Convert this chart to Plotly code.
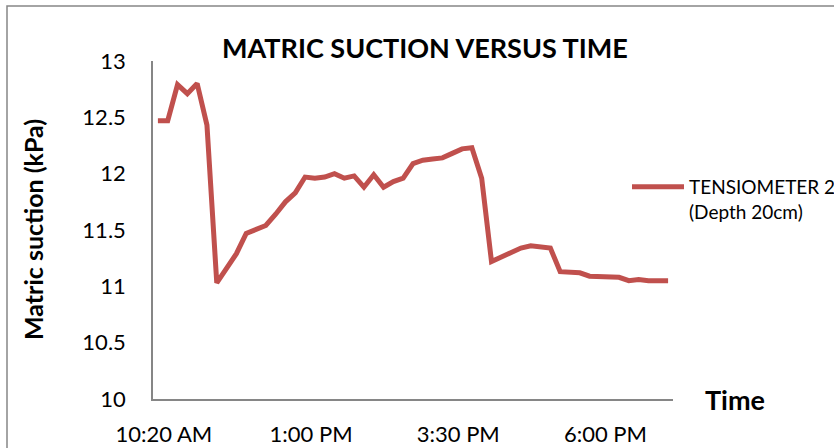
import plotly.graph_objects as go

# Matric suction readings (kPa) from tensiometer 2, in reading order
suction_kpa = [
    12.47, 12.47, 12.79, 12.71, 12.80, 12.43, 11.03, 11.16, 11.29, 11.47,
    11.50, 11.54, 11.64, 11.75, 11.83, 11.97, 11.96, 11.97, 12.00, 11.96,
    11.98, 11.88, 11.99, 11.88, 11.93, 11.96, 12.09, 12.12, 12.13, 12.14,
    12.18, 12.22, 12.23, 11.96, 11.22, 11.26, 11.30, 11.34, 11.36, 11.35,
    11.34, 11.13, 11.13, 11.12, 11.09, 11.09, 11.08, 11.08, 11.05, 11.06,
    11.05, 11.05, 11.05,
]
# Time labels shown on the category axis, one every 15 readings
time_labels = ["10:20 AM", "1:00 PM", "3:30 PM", "6:00 PM"]
label_step = 15

series_name = "TENSIOMETER 2<br>(Depth 20cm)"
line_color = "#C0504D"
axis_color = "#868686"
font_family = "Lato, Carlito, Calibri, sans-serif"

reading_index = list(range(len(suction_kpa)))
tick_positions = [i * label_step for i in range(len(time_labels))]

fig = go.Figure()
fig.add_trace(go.Scatter(
    x=reading_index,
    y=suction_kpa,
    mode="lines",
    name=series_name,
    line=dict(color=line_color, width=5),
))

W, H = 834, 448
L, R, T, B = 153, 161, 61, 49
pw, ph = W - L - R, H - T - B

def px_x(p):
    return (p - L) / pw

def px_y(p):
    return (H - B - p) / ph

fig.update_layout(
    width=W, height=H,
    margin=dict(l=L, r=R, t=T, b=B, pad=0, autoexpand=False),
    paper_bgcolor="white",
    plot_bgcolor="white",
    font=dict(family=font_family, color="#000000", size=22),
    showlegend=True,
    legend=dict(
        x=px_x(627), y=px_y(168), xanchor="left", yanchor="top",
        font=dict(size=19, family=font_family),
        bgcolor="rgba(0,0,0,0)",
        itemwidth=52,
        valign="top",
        borderwidth=0,
    ),
    xaxis=dict(
        range=[-0.5, len(suction_kpa) - 0.5],
        tickmode="array",
        tickvals=tick_positions,
        ticktext=time_labels,
        showgrid=False,
        zeroline=False,
        showline=True,
        linecolor=axis_color,
        linewidth=1.5,
        ticks="",
        automargin=False,
        ticklabelstandoff=15,
        ticklabelshift=6,
        tickfont=dict(size=22),
    ),
    yaxis=dict(
        range=[10, 13],
        tickmode="linear",
        tick0=10,
        dtick=0.5,
        showgrid=False,
        zeroline=False,
        showline=True,
        linecolor=axis_color,
        linewidth=1.5,
        ticks="",
        automargin=False,
        ticklabelstandoff=21,
        tickfont=dict(size=22),
    ),
    annotations=[
        dict(text="<b>MATRIC SUCTION VERSUS TIME</b>", xref="paper", yref="paper",
             x=px_x(425), y=px_y(47), xanchor="center", yanchor="middle",
             showarrow=False, font=dict(size=27, family=font_family)),
        dict(text="<b>Matric suction (kPa)</b>", xref="paper", yref="paper",
             x=px_x(33), y=px_y(230), xanchor="center", yanchor="middle",
             textangle=-90, showarrow=False, font=dict(size=25, family=font_family)),
        dict(text="<b>Time</b>", xref="paper", yref="paper",
             x=px_x(735), y=px_y(399), xanchor="center", yanchor="middle",
             showarrow=False, font=dict(size=27, family=font_family)),
    ],
    shapes=[
        dict(type="rect", xref="paper", yref="paper",
             x0=px_x(7), y0=px_y(470), x1=px_x(860), y1=px_y(6),
             line=dict(color=axis_color, width=1.5), fillcolor="rgba(0,0,0,0)",
             layer="below"),
    ],
)

fig.write_html("out.html")
